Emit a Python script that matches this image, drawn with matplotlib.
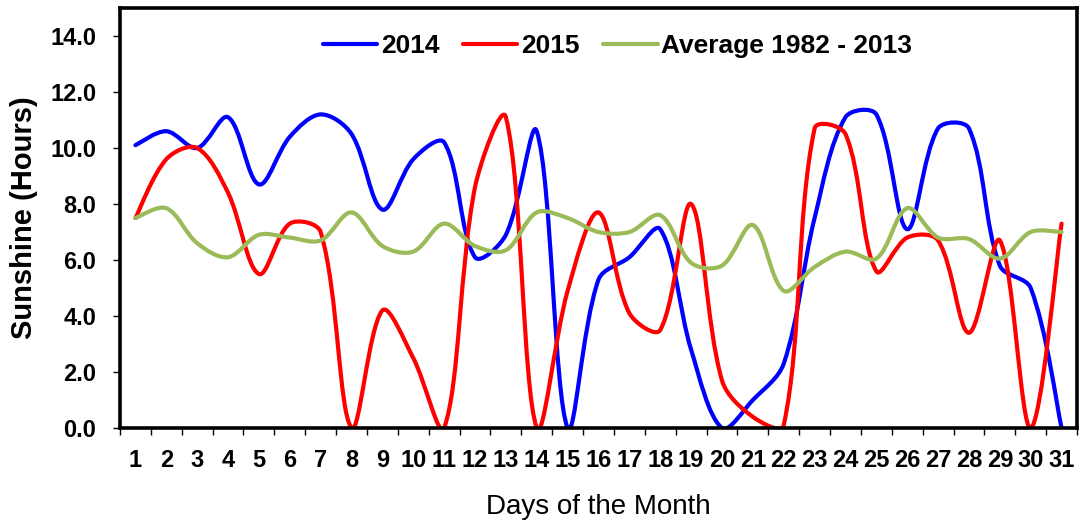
import numpy as np
import matplotlib
matplotlib.use("Agg")
import matplotlib.pyplot as plt
from matplotlib.path import Path
from matplotlib.patches import PathPatch
from matplotlib.lines import Line2D

# --- data ---
days = list(range(1, 32))
sun_2014 = [10.1, 10.6, 10.0, 11.1, 8.7, 10.4, 11.2, 10.5, 7.8, 9.6,
            10.2, 6.1, 6.9, 10.6, 0.0, 5.3, 6.1, 7.1, 2.8, 0.0,
            1.0, 2.3, 7.5, 11.1, 11.2, 7.1, 10.7, 10.7, 5.8, 5.0, 0.0]
sun_2015 = [7.5, 9.6, 10.0, 8.4, 5.5, 7.3, 7.0, 0.0, 4.2, 2.5,
            0.0, 8.6, 11.1, 0.0, 4.9, 7.7, 4.1, 3.5, 8.0, 1.7,
            0.4, 0.1, 10.7, 10.5, 5.6, 6.8, 6.7, 3.4, 6.7, 0.0, 7.3]
sun_avg = [7.5, 7.85, 6.6, 6.1, 6.9, 6.8, 6.7, 7.7, 6.5, 6.3,
           7.3, 6.5, 6.35, 7.7, 7.5, 7.0, 7.0, 7.6, 5.9, 5.8,
           7.25, 4.9, 5.75, 6.3, 6.05, 7.85, 6.8, 6.75, 6.05, 7.0, 7.0]
series_names = ["2014", "2015", "Average 1982 - 2013"]
series_colors = ["#0000FF", "#FF0000", "#9BBB59"]


def smooth_path(ax, x, y):
    """Excel-like smoothed line: cubic bezier, control arms scaled by chord lengths (pixel space)."""
    pts = ax.transData.transform(np.column_stack([x, y]).astype(float))
    n = len(pts)
    verts = [pts[0]]
    codes = [Path.MOVETO]
    for i in range(n - 1):
        p0 = pts[i - 1] if i > 0 else pts[i]
        p1 = pts[i]
        p2 = pts[i + 1]
        p3 = pts[i + 2] if i + 2 < n else pts[i + 1]
        d01 = np.hypot(*(p1 - p0))
        d12 = np.hypot(*(p2 - p1))
        d23 = np.hypot(*(p3 - p2))
        f1 = d12 / (d01 + d12) / 3.0 if d01 + d12 > 0 else 0
        f2 = d12 / (d12 + d23) / 3.0 if d12 + d23 > 0 else 0
        if i == 0:
            f1 = 1 / 6.0
        if i == n - 2:
            f2 = 1 / 6.0
        c1 = p1 + (p2 - p0) * f1
        c2 = p2 - (p3 - p1) * f2
        verts += [c1, c2, p2]
        codes += [Path.CURVE4] * 3
    verts = ax.transData.inverted().transform(np.array(verts))
    return Path(verts, codes)


plt.rcParams['font.family'] = ['Liberation Sans', 'DejaVu Sans']

fig = plt.figure(figsize=(10.81, 5.23), dpi=100)
ax = fig.add_axes([0.111, 0.1816, 0.8853, 0.8031])
ax.set_xlim(0.5, 31.5)
ax.set_ylim(0, 15)

handles = []
for vals, name, col in zip([sun_2014, sun_2015, sun_avg], series_names, series_colors):
    patch = PathPatch(smooth_path(ax, days, vals), facecolor="none", edgecolor=col,
                      lw=3.0, capstyle="round", joinstyle="round")
    ax.add_patch(patch)
    handles.append(Line2D([], [], color=col, lw=3.0, solid_capstyle="round"))

ax.set_yticks(np.arange(0, 15, 2))
ax.set_yticklabels([f"{v:.1f}" for v in np.arange(0, 15, 2)],
                   fontsize=17, fontweight="bold")
ax.set_xticks(days)
ax.set_xticklabels([str(d) for d in days], fontsize=17, fontweight="bold")
ax.set_xticks(np.arange(0.5, 32, 1), minor=True)
ax.tick_params(axis="x", which="major", length=0, pad=15)
ax.tick_params(axis="x", which="minor", length=5, width=1, direction="out")
ax.tick_params(axis="y", length=5, width=1, direction="out", pad=12)

for s in ax.spines.values():
    s.set_linewidth(2.6)
    s.set_color("black")

ax.set_ylabel("Sunshine (Hours)", fontsize=21, fontweight="bold")
ax.yaxis.set_label_coords(-0.086, 0.5)
ax.set_xlabel("Days of the Month", fontsize=20)
ax.xaxis.set_label_coords(0.5, -0.157)

ax.legend(handles, series_names, loc="upper center", bbox_to_anchor=(0.52, 1.0),
          ncol=3, frameon=False, prop={"size": 19, "weight": "bold"},
          handlelength=2.05, handletextpad=0.15, columnspacing=0.9,
          borderaxespad=0.6)

fig.savefig("out.png", dpi=100)
